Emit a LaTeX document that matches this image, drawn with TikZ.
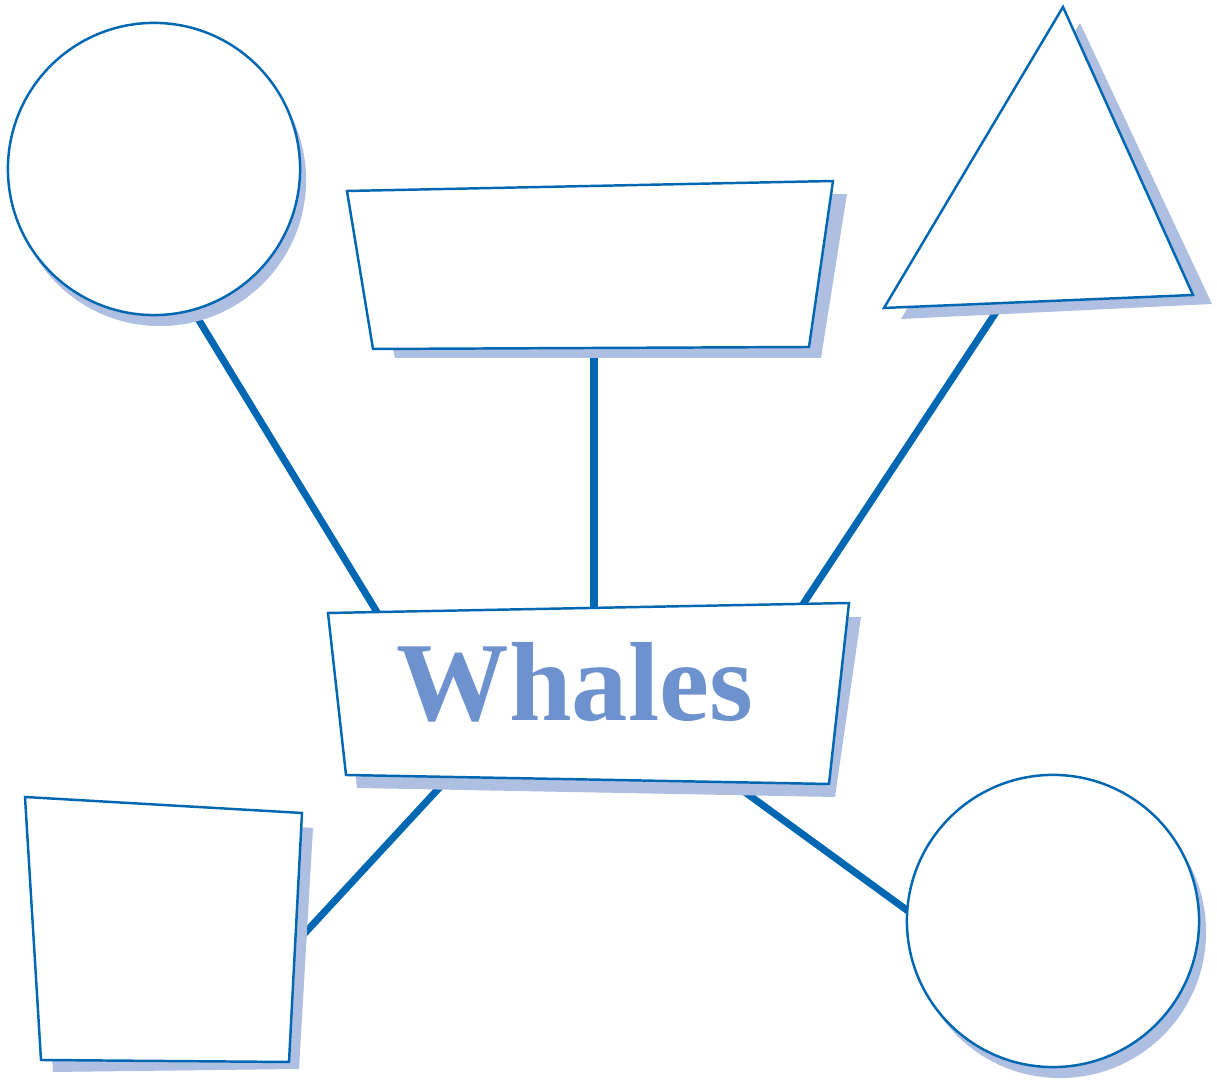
\documentclass[tikz,border=0pt]{standalone}
\usepackage{fontspec}
\setmainfont{Liberation Serif}
\usepackage{tikz}
\definecolor{whaleblue}{RGB}{0,103,178}
\definecolor{shadowblue}{RGB}{174,191,225}
\definecolor{titleblue}{RGB}{110,146,205}

\begin{document}
\begin{tikzpicture}[x=0.01cm,y=-0.01cm,
    outline/.style={fill=white, draw=whaleblue, line width=0.7pt},
    shade/.style={fill=shadowblue},
    link/.style={draw=whaleblue, line width=2pt}]
    \useasboundingbox (0,0) rectangle (1217,1080);
    % ends of the links, hidden inside the shapes
    \coordinate (c1in) at (164,263);
    \coordinate (h1) at (394,640);
    \coordinate (t2in) at (594,330);
    \coordinate (h2) at (594,630);
    \coordinate (t3in) at (1014,285);
    \coordinate (h3) at (784,633);
    \coordinate (h4) at (465,760);
    \coordinate (q4in) at (280,960);
    \coordinate (h5) at (720,774);
    \coordinate (c5in) at (930,927);
    \draw[link] (c1in) -- (h1);
    \draw[link] (t2in) -- (h2);
    \draw[link] (t3in) -- (h3);
    \draw[link] (h4) -- (q4in);
    \draw[link] (h5) -- (c5in);
    % shadows
    \fill[shade] (160,180) circle[radius=1.46cm];
    \fill[shade] (359,201) -- (847,194) -- (821,358) -- (395,358) -- cycle;
    \fill[shade] (1080,23) -- (1212,304) -- (901,319) -- cycle;
    \fill[shade] (340,623) -- (861,617) -- (835,797) -- (357,788) -- cycle;
    \fill[shade] (37,809) -- (313,828) -- (299,1069) -- (53,1072) -- cycle;
    \fill[shade] (1060,932) circle[radius=1.46cm];
    % shapes
    \filldraw[outline] (154,169) circle[radius=1.46cm];
    \filldraw[outline] (347,191) -- (833,181) -- (809,347) -- (373,349) -- cycle;
    \filldraw[outline] (1063,7) -- (1193,295) -- (884,308) -- cycle;
    \filldraw[outline] (328,613) -- (849,603) -- (829,784) -- (346,775) -- cycle;
    \filldraw[outline] (25,797) -- (302,813) -- (289,1062) -- (41,1060) -- cycle;
    \filldraw[outline] (1053,921) circle[radius=1.46cm];
    \node[anchor=base, text=titleblue, font=\fontsize{32}{36}\selectfont\bfseries] (title) at (575,721) {Whales};
\end{tikzpicture}
\end{document}
